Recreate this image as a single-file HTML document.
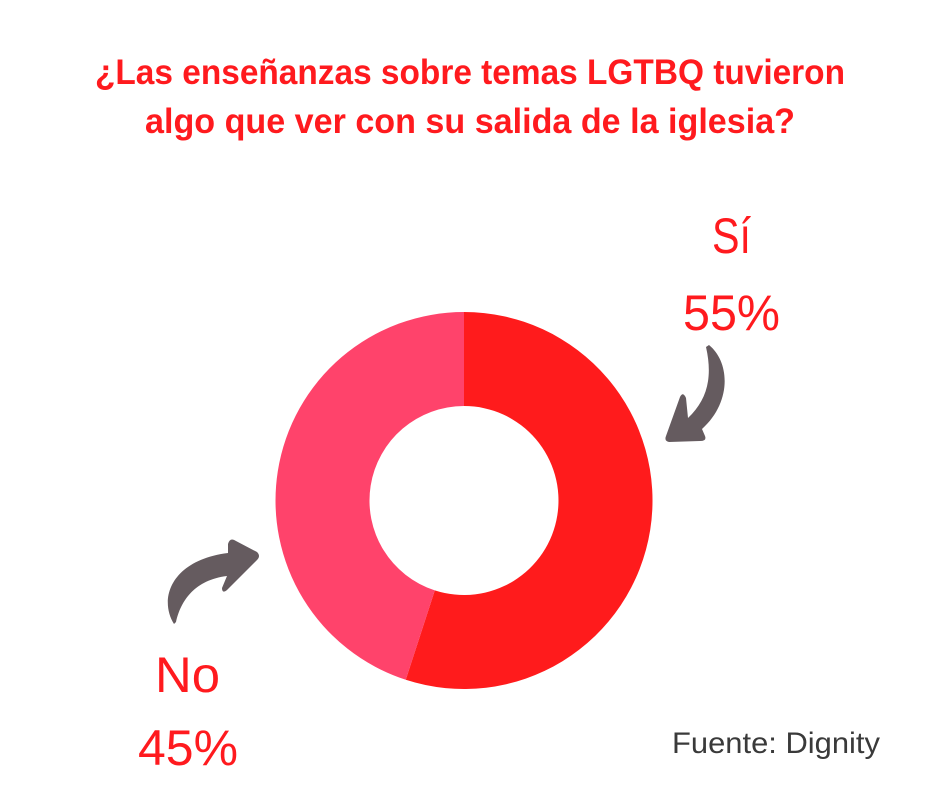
<!DOCTYPE html>
<html>
<head>
<meta charset="utf-8">
<style>
  html, body { margin: 0; padding: 0; background: #ffffff; }
  body { width: 940px; height: 788px; overflow: hidden; }
  svg { display: block; }
</style>
</head>
<body>
<svg width="940" height="788" viewBox="0 0 940 788" xmlns="http://www.w3.org/2000/svg">
  <rect width="940" height="788" fill="#ffffff"/>

  <!-- Title -->
  <g font-family="'Liberation Sans Narrow', 'Liberation Sans', sans-serif" font-weight="bold" font-size="35" fill="#FF1A1E">
    <text x="95" y="84" textLength="750" lengthAdjust="spacingAndGlyphs">¿Las enseñanzas sobre temas LGTBQ tuvieron</text>
    <text x="145" y="133" textLength="650" lengthAdjust="spacingAndGlyphs">algo que ver con su salida de la iglesia?</text>
  </g>

  <!-- Donut -->
  <path d="M464,312 A188.5,188.5 0 1 1 405.75,679.77 L434.80,590.38 A94.5,94.5 0 1 0 464,406 Z" fill="#FF1B1C"/>
  <path d="M464,312 A188.5,188.5 0 0 0 405.75,679.77 L434.80,590.38 A94.5,94.5 0 0 1 464,406 Z" fill="#FF436B"/>

  <!-- Labels -->
  <g font-family="'Liberation Sans', sans-serif" font-size="50" fill="#FF1A1E">
    <text x="712" y="253" textLength="39" lengthAdjust="spacingAndGlyphs">Sí</text>
    <text x="683" y="330" textLength="97" lengthAdjust="spacingAndGlyphs">55%</text>
    <text x="155" y="692" textLength="65" lengthAdjust="spacingAndGlyphs">No</text>
    <text x="138" y="765" textLength="100" lengthAdjust="spacingAndGlyphs">45%</text>
  </g>

  <!-- Arrows -->
  <path fill="#655B5F" d="
    M 709,345
    C 730,362 732,402 702,429
    L 705,436
    Q 707,441 700,441
    L 669,442
    Q 664,441 666,436
    L 680,397
    Q 683,391 686,398
    L 688,418
    C 707,400 713,378 706,347
    Z"/>
  <path fill="#655B5F" d="
    M 174,624
    C 158,598 172,560 228,553
    L 228,544
    Q 230,537 236,541
    L 257,552
    Q 261,556 257,560
    L 227,590
    Q 222,594 222,588
    L 227,576
    C 195,580 181,600 176,622
    Z"/>

  <!-- Source -->
  <text x="672" y="753" font-family="'Liberation Sans', sans-serif" font-size="30" fill="#3a3a3a" textLength="208" lengthAdjust="spacingAndGlyphs">Fuente: Dignity</text>
</svg>
</body>
</html>
